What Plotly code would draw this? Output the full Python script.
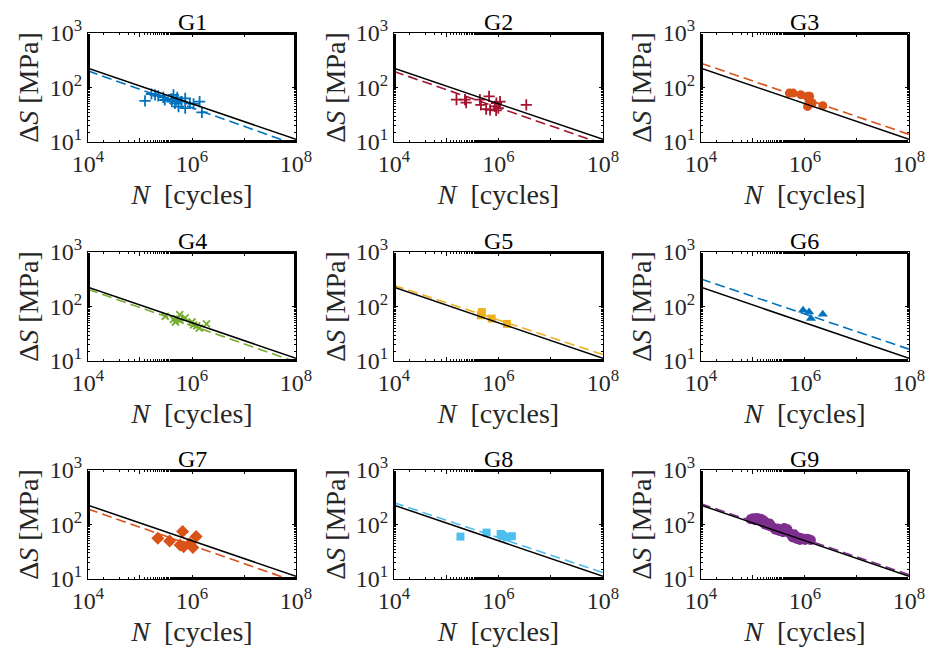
import plotly.graph_objects as go

# ---------------- data ----------------
GROUPS = ["G1", "G2", "G3", "G4", "G5", "G6", "G7", "G8", "G9"]

# reference (black) S-N curve, evaluated at the axis ends
REF_N = [1e4, 1e8]
REF_S = [226, 11.2]

# fitted (dashed) curves per group, at N = 1e4 and N = 1e8
FIT_N = [1e4, 1e8]
FIT_S_START = [202, 197, 279, 207, 244, 320, 192, 251, 240]
FIT_S_END = [8.9, 9.2, 13.8, 9.6, 13.1, 16.5, 8.9, 13.1, 12.0]

G1_N = [1.25e5, 1.66e5, 1.95e5, 2.24e5, 2.8e5, 3.0e5, 4.4e5, 4.1e5, 4.7e5, 5.0e5,
        5.5e5, 7.4e5, 7.4e5, 9.1e5, 1.07e6, 1.4e6, 1.55e6, 6.3e5, 4.0e5, 5.2e5]
G1_S = [57, 76, 73, 70, 66, 59, 73, 55, 51, 59,
        44.6, 63, 41.7, 51, 50, 55, 35, 55, 62, 66]

G2_N = [1.57e5, 2.28e5, 2.4e5, 4.4e5, 4.6e5, 5.8e5, 6.6e5, 6.9e5, 8.5e5, 9.1e5, 9.9e5, 1.07e6, 9.0e5, 3.4e6]
G2_S = [60, 60, 53, 60, 48, 40, 69, 39, 45, 52, 42, 55, 38, 48]

G3_N = [5.0e5, 5.9e5, 8.3e5, 1.12e6, 1.23e6, 1.2e6, 1.12e6, 1.38e6, 2.2e6]
G3_S = [79, 79, 74, 69, 69, 58, 45, 52, 46.5]

G4_N = [3.06e5, 4.4e5, 4.8e5, 5.1e5, 5.8e5, 5.9e5, 7.4e5, 1.0e6, 1.07e6, 1.23e6, 1.38e6, 1.9e6]
G4_S = [66, 58, 52, 60, 71, 56, 62, 52, 46, 44, 40, 48]

G5_N = [4.8e5, 4.6e5, 7.4e5, 1.45e6]
G5_S = [79, 69, 60, 48]

G6_N = [9.2e5, 1.2e6, 1.3e6, 2.2e6]
G6_S = [85, 79, 60, 72]

G7_N = [2.2e5, 3.7e5, 5.9e5, 6.6e5, 6.9e5, 9.1e5, 1.04e6, 1.2e6]
G7_S = [56, 50, 42, 74, 39, 45, 38, 60]

G8_N = [1.87e5, 5.9e5, 1.1e6, 1.23e6, 1.44e6, 1.8e6, 1.15e6]
G8_S = [60, 71, 67, 61, 58, 61, 64]

G9_N = [9.0e4, 1.0e5, 1.1e5, 1.2e5, 1.3e5, 1.4e5, 1.5e5, 1.6e5, 1.7e5, 1.8e5,
        2.0e5, 2.1e5, 2.3e5, 2.5e5, 2.7e5, 3.0e5, 3.2e5, 3.5e5, 3.8e5, 4.0e5,
        4.3e5, 4.6e5, 5.0e5, 5.4e5, 5.8e5, 6.2e5, 6.6e5, 7.0e5, 7.5e5, 8.0e5,
        8.6e5, 9.2e5, 1.0e6, 1.1e6, 1.2e6, 1.3e6]
G9_S = [125, 130, 120, 132, 118, 128, 110, 120, 100, 108,
        95, 104, 92, 86, 80, 84, 76, 80, 72, 86,
        78, 82, 70, 64, 58, 66, 60, 54, 58, 52,
        56, 54, 52, 55, 53, 52]

POINTS_N = [G1_N, G2_N, G3_N, G4_N, G5_N, G6_N, G7_N, G8_N, G9_N]
POINTS_S = [G1_S, G2_S, G3_S, G4_S, G5_S, G6_S, G7_S, G8_S, G9_S]

X_TICKVALS = [1e4, 1e5, 1e6, 1e7, 1e8]
X_TICKTEXT = ["10<sup>4</sup>", "", "10<sup>6</sup>", "", "10<sup>8</sup>"]
Y_TICKVALS = [10, 100, 1000]
Y_TICKTEXT = ["10<sup>1</sup>", "10<sup>2</sup>", "10<sup>3</sup>"]

# ---------------- styles ----------------
COLORS = ["#0072BD", "#A2142F", "#D95319", "#77AC30", "#EDB120",
          "#0072BD", "#D95319", "#4DBEEE", "#7E2F8E"]
SYMBOLS = ["cross-thin", "cross-thin", "circle", "x-thin", "square",
           "triangle-up", "diamond", "square", "circle"]
SIZES = [8, 8, 9, 7, 8, 9, 10, 8, 10]

COL_DOM = [(0.095, 0.3197), (0.4255, 0.6512), (0.757, 0.9816)]
ROW_DOM = [(0.7805, 0.949), (0.442, 0.6105), (0.1051, 0.2736)]

FONT = "Liberation Serif, DejaVu Serif, Times New Roman, serif"
TXT = "#262626"

fig = go.Figure()
annotations = []
for i, g in enumerate(GROUPS):
    r, c = divmod(i, 3)
    xa = "x" if i == 0 else f"x{i+1}"
    ya = "y" if i == 0 else f"y{i+1}"
    sym = SYMBOLS[i]
    marker = dict(symbol=sym, size=SIZES[i], color=COLORS[i])
    if sym.endswith("-thin"):
        marker["line"] = dict(color=COLORS[i], width=1.8)
    else:
        marker["line"] = dict(width=0)
    fig.add_trace(go.Scatter(x=POINTS_N[i], y=POINTS_S[i], mode="markers",
                             marker=marker, xaxis=xa, yaxis=ya, showlegend=False))
    fig.add_trace(go.Scatter(x=FIT_N, y=[FIT_S_START[i], FIT_S_END[i]], mode="lines",
                             line=dict(color=COLORS[i], width=1.6, dash="10px,5px"),
                             xaxis=xa, yaxis=ya, showlegend=False))
    fig.add_trace(go.Scatter(x=REF_N, y=REF_S, mode="lines",
                             line=dict(color="black", width=1.5),
                             xaxis=xa, yaxis=ya, showlegend=False))

    common = dict(type="log", showline=True, linecolor="black", linewidth=1,
                  mirror="allticks", ticks="inside", ticklen=4, tickcolor="black",
                  showgrid=False, zeroline=False, automargin=False,
                  tickfont=dict(family=FONT, size=24, color=TXT),
                  minor=dict(ticks="inside", ticklen=2, tickcolor="black", showgrid=False))
    xkey = "xaxis" if i == 0 else f"xaxis{i+1}"
    ykey = "yaxis" if i == 0 else f"yaxis{i+1}"
    fig.update_layout(**{
        xkey: dict(common, domain=list(COL_DOM[c]), anchor=ya, range=[4, 8],
                   tickvals=X_TICKVALS, ticktext=X_TICKTEXT,
                   title=dict(text="<i>N</i>  [cycles]", standoff=8,
                              font=dict(family=FONT, size=28, color=TXT))),
        ykey: dict(common, domain=list(ROW_DOM[r]), anchor=xa, range=[1, 3],
                   tickvals=Y_TICKVALS, ticktext=Y_TICKTEXT,
                   title=dict(text="Δ<i>S</i> [MPa]", standoff=2,
                              font=dict(family=FONT, size=28, color=TXT))),
    })
    annotations.append(dict(text=g, x=sum(COL_DOM[c]) / 2, y=ROW_DOM[r][1],
                            xref="paper", yref="paper", xanchor="center", yanchor="bottom",
                            yshift=-4, showarrow=False,
                            font=dict(family=FONT, size=24, color="black")))

fig.update_layout(width=926, height=647, margin=dict(l=0, r=0, t=0, b=0),
                  paper_bgcolor="white", plot_bgcolor="white",
                  annotations=annotations)
fig.write_html("out.html")
